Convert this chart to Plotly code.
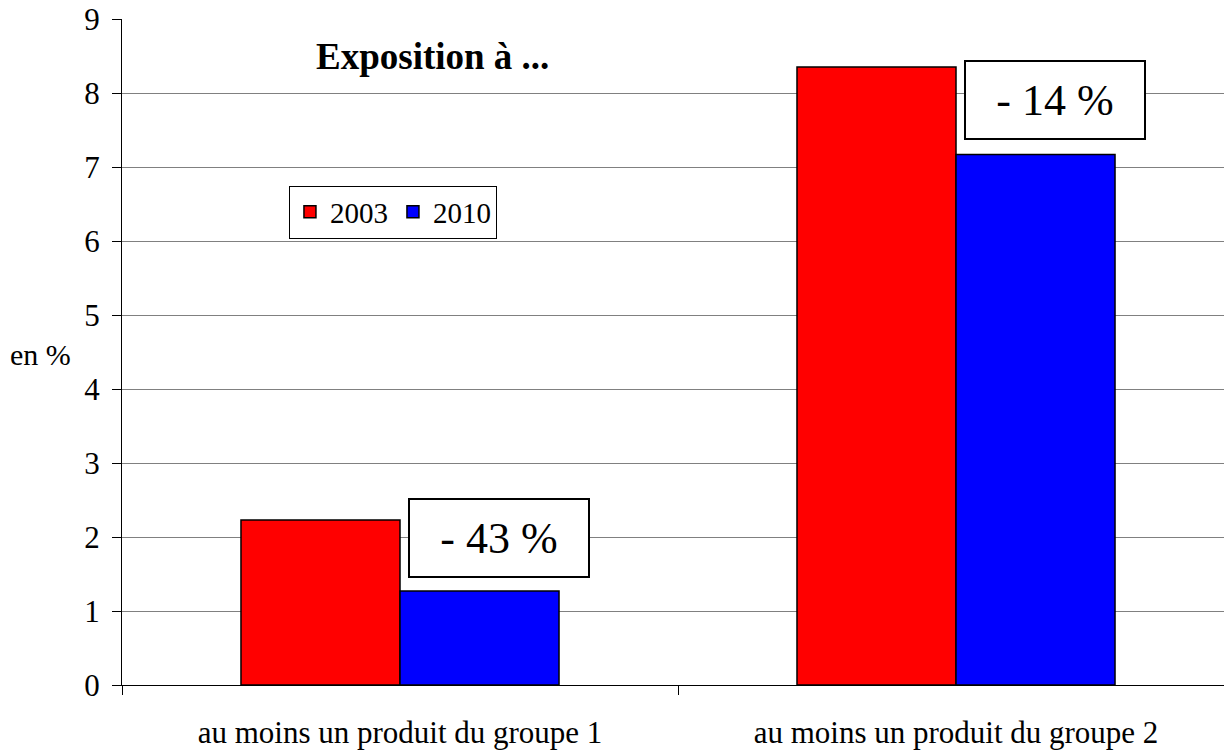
import plotly.graph_objects as go

# Share of people exposed (%), by product group and survey year
categories = ["au moins un produit du groupe 1", "au moins un produit du groupe 2"]
years = ["2003", "2010"]
values_2003 = [2.23, 8.35]
values_2010 = [1.27, 7.17]
changes = ["- 43 %", "- 14 %"]
y_ticks = list(range(0, 10))

FONT = "Liberation Serif"

fig = go.Figure()
fig.add_trace(go.Bar(
    x=categories, y=values_2003, name=years[0],
    marker=dict(color="#FF0000", line=dict(color="black", width=1.5)),
))
fig.add_trace(go.Bar(
    x=categories, y=values_2010, name=years[1],
    marker=dict(color="#0000FF", line=dict(color="black", width=1.5)),
))

# Relative change boxes to the upper right of each 2003 bar
box_y = [1.99, 7.9]
for i, txt in enumerate(changes):
    fig.add_annotation(
        x=i + 0.178, y=box_y[i], xref="x", yref="y",
        text=txt, showarrow=False,
        font=dict(family=FONT, size=44, color="black"),
        bgcolor="white", bordercolor="black", borderwidth=2,
        width=176, height=74, align="center",
    )

fig.add_annotation(
    x=0.174, y=0.944, xref="paper", yref="paper", xanchor="left", yanchor="middle",
    text="<b>Exposition à ...</b>", showarrow=False,
    font=dict(family=FONT, size=37, color="black"),
)
fig.add_annotation(
    x=-0.103, y=0.496, xref="paper", yref="paper", xanchor="left", yanchor="middle",
    text="en %", showarrow=False,
    font=dict(family=FONT, size=30, color="black"),
)

fig.update_layout(
    width=1224, height=750,
    margin=dict(l=122, r=0, t=19, b=62),
    paper_bgcolor="white", plot_bgcolor="white",
    barmode="group", bargap=0.428, bargroupgap=0,
    font=dict(family=FONT, size=30, color="black"),
    showlegend=True,
    legend=dict(
        orientation="h", x=0.1515, y=0.75, xanchor="left", yanchor="top",
        bordercolor="black", borderwidth=1, bgcolor="white",
        font=dict(family=FONT, size=29, color="black"),
        itemwidth=30, tracegroupgap=0,
    ),
    xaxis=dict(
        type="category", range=[-0.5, 1.482],
        showline=True, linecolor="black", linewidth=1,
        ticks="outside", tickson="boundaries", ticklen=9, tickcolor="black",
        ticklabelstandoff=20, showgrid=False,
        tickfont=dict(family=FONT, size=31),
    ),
    yaxis=dict(
        range=[0, 9], tickvals=y_ticks,
        showline=True, linecolor="black", linewidth=1,
        ticks="outside", ticklen=9, tickcolor="black",
        showgrid=True, gridcolor="#808080", gridwidth=1,
        zeroline=False, ticklabelstandoff=6,
        tickfont=dict(family=FONT, size=31),
    ),
)

fig.write_html("out.html")
